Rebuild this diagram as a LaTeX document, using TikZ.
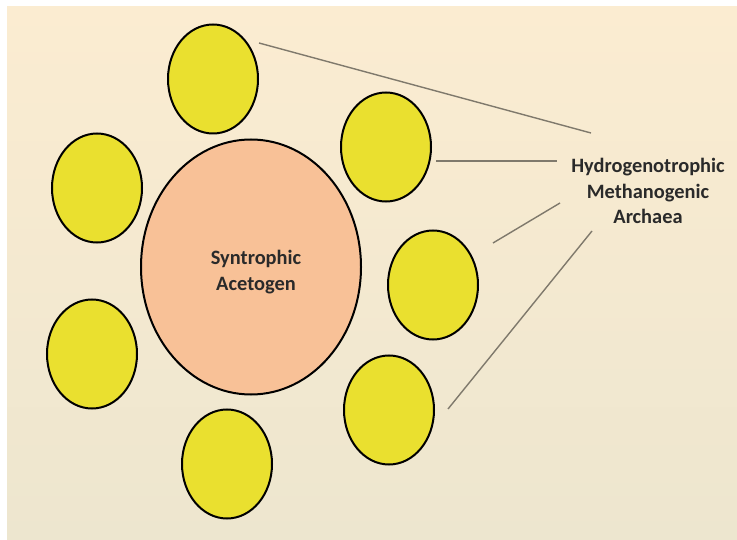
\documentclass[tikz,border=0pt]{standalone}
\usepackage{fontspec}
\setmainfont{Carlito}[BoldFont={Carlito Bold}]
\usetikzlibrary{shapes.geometric}
\definecolor{bgtop}{HTML}{FBECD1}
\definecolor{bgbot}{HTML}{EDE6CF}
\definecolor{cellyellow}{HTML}{EAE02F}
\definecolor{peach}{HTML}{F8C197}
\definecolor{linkgray}{HTML}{7F796C}
\definecolor{txt}{HTML}{2A2A2A}
\tikzset{
  cell/.style={ellipse, draw=black, line width=2pt, fill=cellyellow, minimum width=90pt, minimum height=109pt, inner sep=0pt},
  host/.style={ellipse, draw=black, line width=2pt, fill=peach, minimum width=220pt, minimum height=255pt, inner sep=0pt},
  hosttext/.style={align=center, font=\bfseries\fontsize{20.4}{26}\selectfont, text=txt},
  link/.style={draw=linkgray, line width=1.4pt},
  label/.style={align=center, font=\bfseries\fontsize{20.4}{25.5}\selectfont, text=txt}
}
\begin{document}
\begin{tikzpicture}[x=1pt,y=-1pt]
\useasboundingbox (0,0) rectangle (737,540);
\fill[white] (0,0) rectangle (737,540);
\shade[top color=bgtop, bottom color=bgbot] (7,7) rectangle (737,540);
% cells
\node[cell] (c1) at (213,79) {};
\node[cell] (c2) at (386,147) {};
\node[cell] (c3) at (97,188) {};
\node[host] (h) at (251,267) {};
\node[hosttext] (ht) at (256,272) {Syntrophic\\Acetogen};
\node[cell] (c4) at (433,285) {};
\node[cell] (c5) at (92,354) {};
\node[cell] (c6) at (389,410) {};
\node[cell] (c7) at (227,464) {};
% label
\node[label] (lab) at (648,191) {Hydrogenotrophic\\Methanogenic\\Archaea};
% connector ends
\coordinate (a1) at (259,43);
\coordinate (b1) at (591,133);
\coordinate (a2) at (436,161);
\coordinate (b2) at (557,161);
\coordinate (a3) at (493,243);
\coordinate (b3) at (560,203);
\coordinate (a4) at (448,409);
\coordinate (b4) at (592,231);
\draw[link] (a1) -- (b1);
\draw[link] (a2) -- (b2);
\draw[link] (a3) -- (b3);
\draw[link] (a4) -- (b4);
\end{tikzpicture}
\end{document}
